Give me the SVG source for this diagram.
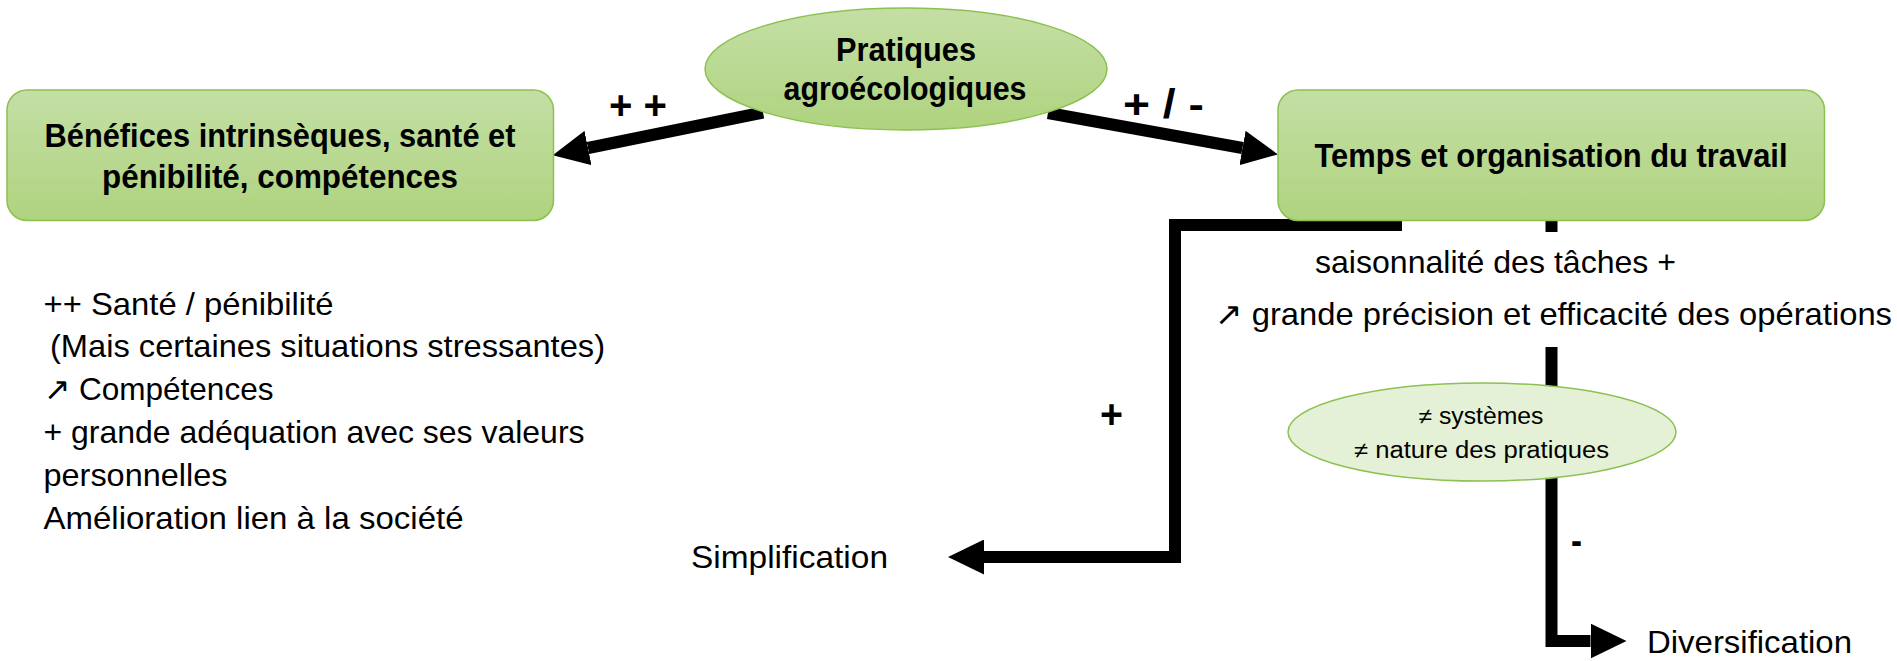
<svg xmlns="http://www.w3.org/2000/svg" width="1897" height="661" viewBox="0 0 1897 661">
  <style>
    .node { fill: url(#gGreen); stroke: #8CC152; stroke-width: 1.5; }
    .soft { fill: #E5F1D6; stroke: #8CC152; stroke-width: 1.5; }
    .conn { fill: none; stroke: #000; stroke-width: 12; stroke-linejoin: miter; }
    .t { font-family: "Liberation Sans", Arial, sans-serif; fill: #000; }
    .b { font-weight: bold; font-size: 33px; }
    .r { font-size: 32px; }
    .s { font-size: 23px; }
    .lab { font-weight: bold; font-size: 40px; }
  </style>
  <defs>
    <linearGradient id="gGreen" x1="0" y1="0" x2="0" y2="1">
      <stop offset="0" stop-color="#C4DFA5"/>
      <stop offset="1" stop-color="#AFD37F"/>
    </linearGradient>
    <marker id="head" markerUnits="userSpaceOnUse" markerWidth="36" markerHeight="35" viewBox="0 0 35 34" refX="0" refY="17" orient="auto">
      <path d="M0,0 L35,17 L0,34 z" fill="#000"/>
    </marker>
  </defs>

  <rect width="1897" height="661" fill="#fff"/>

  <g id="connectors">
    <path class="conn" d="M763,112.5 L588,148" marker-end="url(#head)"/>
    <path class="conn" d="M1048,113 L1242.5,148" marker-end="url(#head)"/>
    <path class="conn" d="M1402,225 H1175 V557 H984" marker-end="url(#head)"/>
    <path class="conn" d="M1551.5,221 V232"/>
    <path class="conn" d="M1551.5,347 V641 H1590.5" marker-end="url(#head)"/>
  </g>

  <g id="node-benefices">
    <rect class="node" x="7" y="90" width="546.5" height="130.5" rx="20"/>
    <text class="t b" x="280" y="147" text-anchor="middle" textLength="471" lengthAdjust="spacingAndGlyphs">Bénéfices intrinsèques, santé et</text>
    <text class="t b" x="280" y="188" text-anchor="middle" textLength="356" lengthAdjust="spacingAndGlyphs">pénibilité, compétences</text>
  </g>

  <g id="node-pratiques">
    <ellipse class="node" cx="906" cy="69" rx="201" ry="61"/>
    <text class="t b" x="906" y="61" text-anchor="middle" textLength="140" lengthAdjust="spacingAndGlyphs">Pratiques</text>
    <text class="t b" x="905" y="100" text-anchor="middle" textLength="243" lengthAdjust="spacingAndGlyphs">agroécologiques</text>
  </g>

  <g id="node-temps">
    <rect class="node" x="1278" y="90" width="546.5" height="130.5" rx="20"/>
    <text class="t b" x="1551" y="167" text-anchor="middle" textLength="473" lengthAdjust="spacingAndGlyphs">Temps et organisation du travail</text>
  </g>

  <g id="node-systemes">
    <ellipse class="soft" cx="1482" cy="432" rx="194" ry="49"/>
    <text class="t s" x="1481" y="424" text-anchor="middle" textLength="125" lengthAdjust="spacingAndGlyphs">≠ systèmes</text>
    <text class="t s" x="1481.5" y="458" text-anchor="middle" textLength="255" lengthAdjust="spacingAndGlyphs">≠ nature des pratiques</text>
  </g>

  <g id="labels">
    <text class="t lab" x="609" y="119" textLength="58" lengthAdjust="spacingAndGlyphs">+ +</text>
    <text class="t lab" x="1123" y="118" textLength="81" lengthAdjust="spacingAndGlyphs">+ / -</text>
    <text class="t lab" x="1100" y="428" textLength="23" lengthAdjust="spacingAndGlyphs">+</text>
    <text class="t lab" x="1571" y="554" textLength="11" lengthAdjust="spacingAndGlyphs">-</text>
  </g>

  <g id="list-benefices">
    <text class="t r" x="43.5" y="315" textLength="290" lengthAdjust="spacingAndGlyphs">++ Santé / pénibilité</text>
    <text class="t r" x="50" y="357" textLength="555" lengthAdjust="spacingAndGlyphs">(Mais certaines situations stressantes)</text>
    <text class="t r" x="43.5" y="400" textLength="230" lengthAdjust="spacingAndGlyphs">↗ Compétences</text>
    <text class="t r" x="43.5" y="443" textLength="541" lengthAdjust="spacingAndGlyphs">+ grande adéquation avec ses valeurs</text>
    <text class="t r" x="43.5" y="486" textLength="184" lengthAdjust="spacingAndGlyphs">personnelles</text>
    <text class="t r" x="43.5" y="529" textLength="420" lengthAdjust="spacingAndGlyphs">Amélioration lien à la société</text>
  </g>

  <g id="text-temps">
    <text class="t r" x="1315" y="273" textLength="361" lengthAdjust="spacingAndGlyphs">saisonnalité des tâches +</text>
    <text class="t r" x="1215" y="325" textLength="677" lengthAdjust="spacingAndGlyphs">↗ grande précision et efficacité des opérations</text>
  </g>

  <g id="node-simplification">
    <text class="t r" x="691" y="568" textLength="197" lengthAdjust="spacingAndGlyphs">Simplification</text>
  </g>
  <g id="node-diversification">
    <text class="t r" x="1647" y="653" textLength="205" lengthAdjust="spacingAndGlyphs">Diversification</text>
  </g>
</svg>
